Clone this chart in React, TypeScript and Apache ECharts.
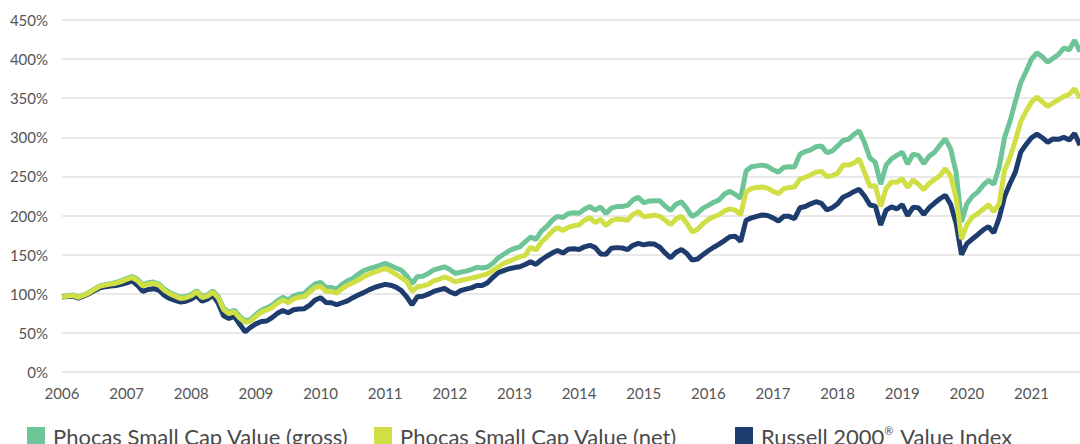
import React, { useEffect, useRef } from "react";
import * as echarts from "echarts";

const YEARS = ["2006","2007","2008","2009","2010","2011","2012","2013","2014","2015","2016","2017","2018","2019","2020","2021"];
const MONTHS = ["01","02","03","04","05","06","07","08","09","10","11","12"];
const LAST_YEAR_MONTHS = 10;

const SERIES_NAMES = ["Phocas Small Cap Value (gross)", "Phocas Small Cap Value (net)", "Russell 2000\u00AE Value Index"];
const COLORS = ["#6dc597", "#cfdf45", "#1f3c6e"];

const gross = [
  96.5, 97.5, 98.5, 96, 98.5, 101.5, 106, 110, 111.5, 113, 114.5, 116.5,
  119.5, 122, 118.5, 111.5, 114, 115, 112.5, 106, 101.5, 98.5, 95.5, 96.5,
  99, 104, 96.5, 98.5, 103.5, 96.5, 81.5, 76, 79, 71, 65.5, 67,
  73.5, 79, 82, 85.5, 91, 95.5, 92, 97, 99.5, 100.5, 107, 112.5,
  114.5, 108.5, 108, 106, 112, 116.5, 119.5, 125, 129.5, 132, 134, 136.5,
  139, 136, 133, 130, 123, 113, 122, 122.5, 126, 130.5, 132.5, 134.5,
  131, 126, 127.5, 129, 131, 133.8, 133, 134.3, 139, 146, 150.5, 155,
  158, 160, 166.5, 172.5, 169.5, 180, 186, 194, 199, 197.5, 202.5, 203.5,
  203, 208, 211.5, 207, 211, 202.5, 209.5, 211.5, 211.5, 213, 220, 223.5,
  216.5, 218.5, 219, 219, 212, 206.5, 214.5, 217.5, 209, 198.5, 203, 209.5,
  213, 217, 220, 227.5, 231, 227, 222, 257, 262.5, 263.5, 264.5, 263,
  258.5, 255.5, 261.5, 262.5, 262, 278.5, 281.8, 284, 288, 289, 280.5, 282.5,
  289, 296, 297.5, 303.5, 308.5, 293, 273.5, 268, 240, 264.5, 272.5, 277,
  281, 266, 278.5, 277, 266.5, 276, 281, 290, 298, 285, 255, 192,
  215, 224.5, 230, 238.5, 245, 240, 262, 300, 320.5, 346, 370, 384.5,
  400, 408, 403, 396, 401, 406, 414, 412, 424, 409.5
];

const net = [
  96, 97, 98, 95.5, 98, 101, 105.5, 109.5, 111, 112.5, 113.5, 115.5,
  118.5, 121, 117, 110, 112.5, 113.5, 111, 104.5, 100, 97, 94, 95,
  97.5, 102.6, 95, 97, 102, 95, 80, 74.5, 77, 69, 63.5, 65,
  71, 76.5, 79.3, 82.5, 88, 92, 88.6, 93.5, 95.5, 96.5, 102.5, 108,
  109.5, 103.5, 103, 101, 106.5, 111, 114, 117.5, 121.5, 125, 127.5, 130,
  132.5, 129, 125, 120.5, 116, 103, 109, 110, 112, 116.5, 118.5, 121.5,
  119, 115.5, 117, 118.5, 120, 121.8, 123.5, 125.5, 130, 134.5, 139, 141.5,
  144.5, 147.5, 149, 159.5, 156, 166, 172.5, 180, 184.5, 181, 185, 187,
  188, 194, 197, 191, 195, 187, 193.5, 195.5, 195, 194, 201.5, 205,
  198.5, 199.5, 200.5, 199, 194, 188.5, 195.5, 199, 190, 179, 182.5, 189.5,
  195, 198.5, 201, 206, 208.5, 207, 201, 230.5, 234.5, 236, 236.5, 235,
  231, 228, 234, 236, 236.5, 246.5, 249, 252, 255.5, 256.5, 250, 251,
  254, 264.6, 264.6, 267, 272.5, 255, 237.5, 238, 212, 234.5, 243, 242.5,
  247, 236, 245.5, 240, 233, 241, 246, 251, 260, 250, 223, 170,
  188, 198, 202.5, 208, 214, 205, 215, 258, 274.5, 296, 320, 333.5,
  345, 351.5, 345.5, 339.5, 344, 348, 352.5, 355, 362, 350
];

const russell = [
  96, 96.5, 97, 94.5, 97, 100, 104, 107.5, 109, 110, 110.5, 112,
  114, 116.5, 111, 103, 105.5, 106.5, 104.5, 98, 94, 91.5, 89.5, 90.5,
  93, 97.5, 90.5, 93, 98, 88, 72, 68.5, 71, 61, 51.5, 57,
  61.5, 64.5, 65.2, 69.5, 75, 78.5, 75.8, 79.5, 80.5, 81, 85.5, 92,
  95, 89, 88.5, 86, 88.5, 91, 95, 98.5, 101.5, 105, 108, 110,
  112, 111, 108.5, 104, 96, 86, 96.3, 96.8, 99.5, 103, 105, 107,
  102.6, 99.7, 104, 106, 107.5, 110.5, 110.5, 114, 121, 127, 129.5, 132,
  133.5, 134.5, 137.5, 141, 137.5, 143.5, 148, 152, 155.5, 152, 157, 157.5,
  156.5, 160, 162, 159, 151, 150.5, 158.3, 159, 158.5, 156.5, 162, 164.5,
  162.5, 164, 163.5, 159.5, 152, 146, 153, 156.5, 151.5, 143, 144.5, 150,
  155, 159.5, 163.5, 168, 173, 173.5, 167, 194, 197, 199, 200.7, 200,
  197, 193, 199, 199, 196, 210, 211.5, 215, 217.7, 215.5, 207.1, 210,
  215, 223.5, 226.5, 230.5, 233.5, 225, 213.5, 212, 188, 207, 211, 208.5,
  214, 200, 210.5, 210, 201.5, 210, 216, 221.5, 226, 214, 190, 150,
  164, 170, 175.5, 181.5, 186, 178, 197, 224.5, 241, 255.5, 281, 291,
  299.5, 304, 299.5, 293.5, 298, 297.5, 300, 296.5, 305, 290
];

const Y_TICKS = [0, 50, 100, 150, 200, 250, 300, 350, 400, 450];

const categories: string[] = [];
YEARS.forEach((y, i) => {
  const n = i === YEARS.length - 1 ? LAST_YEAR_MONTHS : 12;
  for (let m = 0; m < n; m++) categories.push(y + "-" + MONTHS[m]);
});

const FONT = "Lato, 'Open Sans', sans-serif";

export default function App() {
  const ref = useRef<HTMLDivElement>(null);
  useEffect(() => {
    if (!ref.current) return;
    const chart = echarts.init(ref.current, undefined, { renderer: "svg" });
    const legendBase = {
      top: 425,
      padding: 0,
      itemWidth: 18,
      itemHeight: 18,
      icon: "rect",
      itemGap: 0,
      selectedMode: false,
      formatter: (name: string) =>
        name.indexOf("\u00AE") >= 0
          ? name.replace("\u00AE", "{sup|\u00AE}")
          : name,
      textStyle: {
        fontSize: 22,
        color: "#4a4a4a",
        fontFamily: FONT,
        padding: [0, 0, 0, 3],
        rich: {
          sup: { fontSize: 11, verticalAlign: "top", padding: [0, 2, 10, 0], color: "#4a4a4a", fontFamily: FONT },
        },
      },
    };
    chart.setOption({
      animation: false,
      color: COLORS,
      textStyle: { fontFamily: FONT },
      grid: { left: 62, right: 0, top: 20, bottom: 72, containLabel: false },
      legend: [
        { ...legendBase, left: 27, data: [SERIES_NAMES[0]] },
        { ...legendBase, left: 374, data: [SERIES_NAMES[1]] },
        { ...legendBase, left: 735, data: [SERIES_NAMES[2]] },
      ],
      xAxis: {
        type: "category",
        data: categories,
        boundaryGap: false,
        axisLine: { show: false },
        axisTick: { show: false },
        axisLabel: {
          interval: (idx: number) => idx % 12 === 0,
          formatter: (v: string) => v.slice(0, 4),
          fontSize: 15,
          color: "#555",
          fontFamily: FONT,
          margin: 13,
        },
        splitLine: { show: false },
      },
      yAxis: {
        type: "value",
        min: Y_TICKS[0],
        max: Y_TICKS[Y_TICKS.length - 1],
        interval: Y_TICKS[1] - Y_TICKS[0],
        axisLine: { show: false },
        axisTick: { show: false },
        axisLabel: {
          formatter: (v: number) => v + "%",
          fontSize: 15,
          color: "#555",
          fontFamily: FONT,
          margin: 14,
        },
        splitLine: { show: true, lineStyle: { color: "#e2e2e2", width: 1.5 } },
      },
      series: [
        { name: SERIES_NAMES[0], type: "line", data: gross, showSymbol: false, lineStyle: { width: 5, color: COLORS[0] }, itemStyle: { color: COLORS[0] }, z: 2 },
        { name: SERIES_NAMES[2], type: "line", data: russell, showSymbol: false, lineStyle: { width: 5, color: COLORS[2] }, itemStyle: { color: COLORS[2] }, z: 3 },
        { name: SERIES_NAMES[1], type: "line", data: net, showSymbol: false, lineStyle: { width: 5, color: COLORS[1] }, itemStyle: { color: COLORS[1] }, z: 4 },
      ],
    });
    return () => chart.dispose();
  }, []);
  return <div ref={ref} style={{ width: 1080, height: 444, position: "absolute", left: 0, top: 0 }} />;
}
